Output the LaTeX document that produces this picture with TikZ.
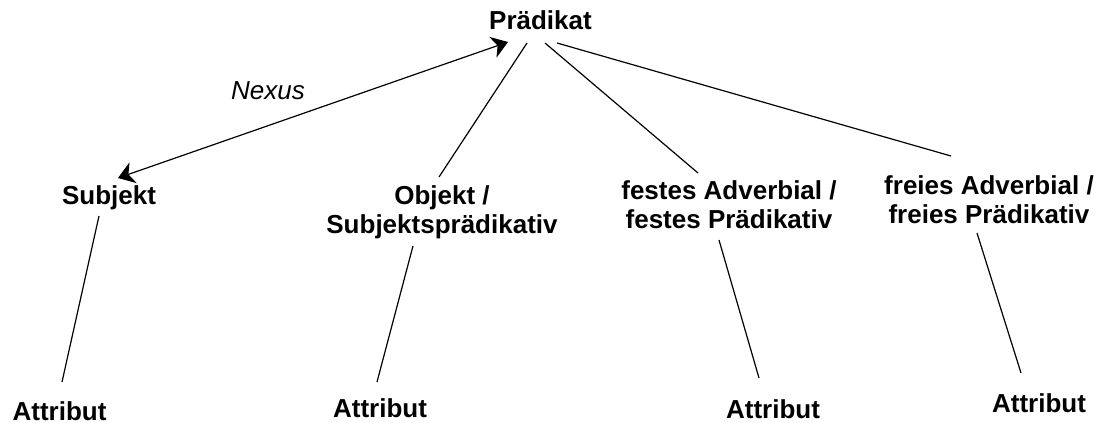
\documentclass[tikz,border=0pt]{standalone}
\usepackage{fontspec}
\setmainfont{Liberation Sans}
\usetikzlibrary{arrows.meta}
\begin{document}
\begin{tikzpicture}[x=0.5pt,y=-0.5pt,
  lbl/.style={font=\fontsize{13}{14.5}\selectfont\bfseries, inner sep=0pt, anchor=base, align=center},
  conn/.style={line width=0.6pt},
  nexarrow/.style={line width=0.6pt, {Stealth[length=8pt,width=11pt,inset=2.5pt]}-{Stealth[length=8pt,width=11pt,inset=2.5pt]}}]
\useasboundingbox (0,0) rectangle (1100,423);
% nodes
\node[lbl] (pra) at (540.5,30) {Prädikat};
\node[font=\fontsize{13}{14.5}\selectfont\itshape, inner sep=0pt, anchor=base] (nexus) at (268,99) {Nexus};
\node[lbl] (sub) at (109,204) {Subjekt};
\node[lbl] (obj) at (442,233) {Objekt /\\Subjektsprädikativ};
\node[lbl] (fest) at (729,228) {festes Adverbial /\\festes Prädikativ};
\node[lbl] (frei) at (989,223) {freies Adverbial /\\freies Prädikativ};
\node[lbl] (a1) at (59.5,420) {Attribut};
\node[lbl] (a2) at (380,417) {Attribut};
\node[lbl] (a3) at (773,418) {Attribut};
\node[lbl] (a4) at (1039,412) {Attribut};
% connector end points
\coordinate (nxs) at (118,178);
\coordinate (nxp) at (508,42);
\coordinate (po) at (527,43);
\coordinate (op) at (439,177);
\coordinate (pf) at (545,43);
\coordinate (fp) at (698,173);
\coordinate (pr) at (557,43);
\coordinate (rp) at (951,156);
\coordinate (s1) at (99,216);
\coordinate (t1) at (62,382);
\coordinate (s2) at (413,246);
\coordinate (t2) at (377,382);
\coordinate (s3) at (719,240);
\coordinate (t3) at (759,378);
\coordinate (s4) at (977,233);
\coordinate (t4) at (1021,373);
% connectors
\draw[nexarrow] (nxs) -- (nxp);
\draw[conn] (po) -- (op);
\draw[conn] (pf) -- (fp);
\draw[conn] (pr) -- (rp);
\draw[conn] (s1) -- (t1);
\draw[conn] (s2) -- (t2);
\draw[conn] (s3) -- (t3);
\draw[conn] (s4) -- (t4);
\end{tikzpicture}
\end{document}
